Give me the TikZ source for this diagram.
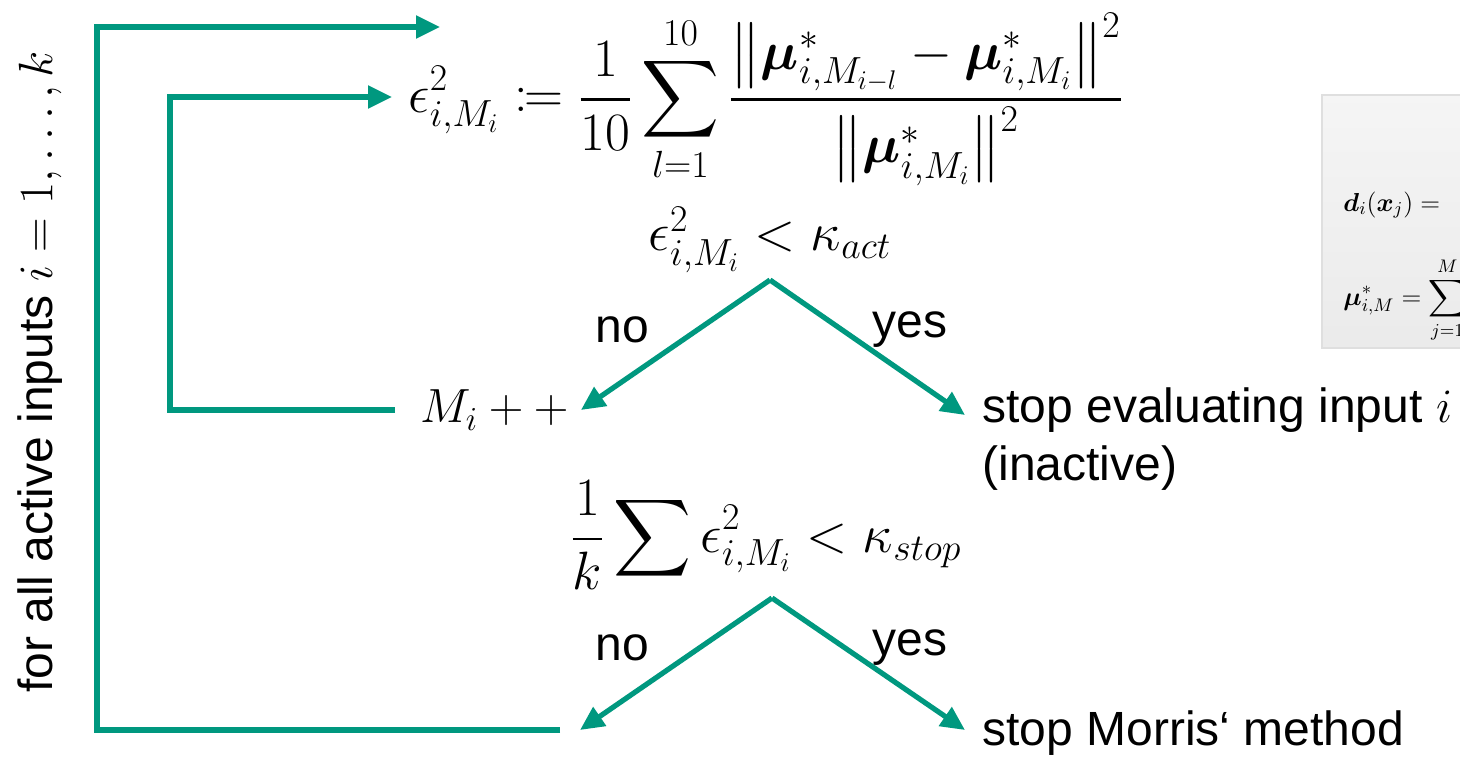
\RequirePackage{fix-cm}
\documentclass[tikz,border=0pt]{standalone}
\usepackage{amsmath,amssymb,mathtools,bm}
\usepackage{fontspec}
\setmainfont{Liberation Sans}
\usetikzlibrary{arrows.meta,positioning,calc}
\definecolor{flowteal}{HTML}{00987F}
\newcommand\txtsize{\fontsize{24}{29}\selectfont}
\newcommand\eqsize{\fontsize{27}{32}\selectfont}
\newcommand\boxsize{\fontsize{13}{15}\selectfont}
\tikzset{
  flow/.style   ={draw=flowteal, line width=2.6pt},
  flowarr/.style={flow, -{Triangle[length=12pt,width=11pt]}},
  lbl/.style    ={font=\txtsize, inner sep=0pt, text=black},
  eq/.style     ={font=\eqsize, inner sep=0pt},
  notebox/.style={draw=gray!25, line width=0.6pt, top color=gray!8, bottom color=gray!16}
}

\begin{document}
\begin{tikzpicture}[x=0.5pt, y=-0.5pt]
\useasboundingbox (0,0) rectangle (1460,758);
\clip (0,0) rectangle (1460,758);
% loop label
\node[lbl, rotate=90] (loop) at (40,372) {for all active inputs $i = 1, \dots, k$};
% error estimate
\node[eq, anchor=base west] (epsdef) at (408,113)
  {$\displaystyle \epsilon^2_{i,M_i} \coloneqq \frac{1}{10}\sum_{l=1}^{10}
    \frac{\bigl\|\bm{\mu}^*_{i,M_{i-l}} - \bm{\mu}^*_{i,M_i}\bigr\|^2}{\bigl\|\bm{\mu}^*_{i,M_i}\bigr\|^2}$};
\node[eq] (act) at (770,240) {$\epsilon^2_{i,M_i} < \kappa_{act}$};
\coordinate (fork1) at (770,280);
\node[lbl, anchor=west] (mplus) at (420,410) {$M_i + +$};
\node[lbl, anchor=west] (stopin) at (982,410) {stop evaluating input $i$};
\node[lbl, anchor=west] (inact) at (982,468) {(inactive)};
\node[lbl] (no1) at (622,330) {no};
\node[lbl] (yes1) at (910,330) {yes};
% stop criterion
\node[eq] (stopcrit) at (766,535) {$\displaystyle \frac{1}{k}\sum \epsilon^2_{i,M_i} < \kappa_{stop}$};
\coordinate (fork2) at (772,598);
\coordinate (again) at (580,730);
\node[lbl, anchor=west] (stopm) at (982,733) {stop Morris‘ method};
\node[lbl] (no2) at (622,648) {no};
\node[lbl] (yes2) at (910,648) {yes};
% arrows
\draw[flowarr] (fork1) -- ([xshift=6pt]mplus.east);
\draw[flowarr] (fork1) -- ([xshift=-8.5pt,yshift=-2.5pt]stopin.west);
\draw[flowarr] (fork2) -- (again);
\draw[flowarr] (fork2) -- ([xshift=-8.5pt,yshift=1.5pt]stopm.west);
% loops
\draw[flowarr] ([xshift=-12.5pt]mplus.west) -- (170,410) |- (392,97);
\draw[flowarr] ([xshift=-10pt]again) -- (97,730) |- (440,27);
% side note
\path[notebox] (1322,95) rectangle (1480,348);
\node[font=\boxsize, anchor=west, inner sep=0pt] (dnote) at (1343,205) {$\bm{d}_i(\bm{x}_j) =$};
\node[font=\boxsize, anchor=west, inner sep=0pt] (munote) at (1343,300) {$\displaystyle \bm{\mu}^*_{i,M} = \sum_{j=1}^{M}$};
\end{tikzpicture}
\end{document}
